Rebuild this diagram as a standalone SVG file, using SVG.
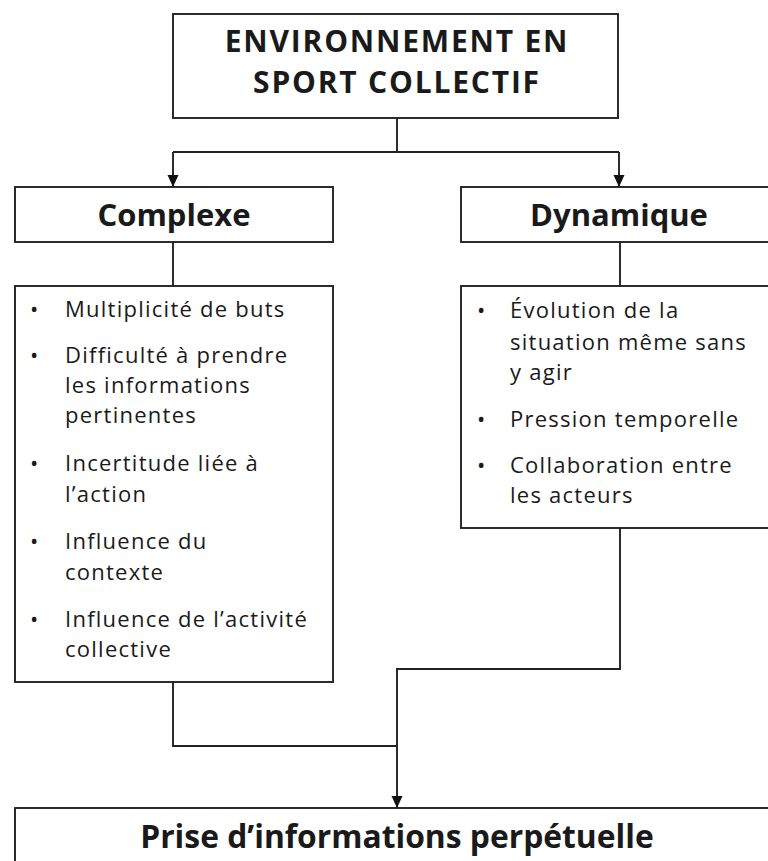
<svg xmlns="http://www.w3.org/2000/svg" width="768" height="861" viewBox="0 0 768 861">
<style>
.box{fill:#fff;stroke:#222;stroke-width:1.9}
.con{fill:none;stroke:#222;stroke-width:1.9}
.t{font-family:"Open Sans","Noto Sans","DejaVu Sans",sans-serif;fill:#1a1a1a}
.h{font-weight:bold;text-anchor:middle}
.b{font-size:22px;letter-spacing:1.25px}
.ti{font-size:30px;letter-spacing:1.8px}
</style>
<defs>
<marker id="arr" markerWidth="12" markerHeight="12" refX="12" refY="6" orient="auto" markerUnits="userSpaceOnUse">
<path d="M0,0.5 L12,6 L0,11.5 Z" fill="#111"/>
</marker>
</defs>
<rect width="768" height="861" fill="#fff"/>
<g id="connectors">
<path class="con" d="M397,118 V152"/>
<path class="con" d="M173,152 H619"/>
<path class="con" d="M173,152 V187" marker-end="url(#arr)"/>
<path class="con" d="M619,152 V187" marker-end="url(#arr)"/>
<path class="con" d="M173,242 V286"/>
<path class="con" d="M620,242 V286"/>
<path class="con" d="M173,682 V746 H397"/>
<path class="con" d="M620,528 V669 H397 V808" marker-end="url(#arr)"/>
</g>
<g id="top">
<rect class="box" x="173" y="14" width="445" height="104"/>
<text class="t h ti" x="397" y="52">ENVIRONNEMENT EN</text>
<text class="t h ti" x="397" y="93">SPORT COLLECTIF</text>
</g>
<g id="complexe">
<rect class="box" x="15" y="187" width="318" height="55"/>
<text class="t h" x="174" y="226" font-size="31">Complexe</text>
</g>
<g id="dynamique">
<rect class="box" x="461" y="187" width="320" height="55"/>
<text class="t h" x="619" y="226" font-size="31">Dynamique</text>
</g>
<g id="complexe-list">
<rect class="box" x="15" y="286" width="318" height="396"/>
<g class="t b">
<text x="30" y="317">•</text><text x="65" y="317">Multiplicité de buts</text>
<text x="30" y="363">•</text><text x="65" y="363">Difficulté à prendre</text>
<text x="65" y="393">les informations</text>
<text x="65" y="423">pertinentes</text>
<text x="30" y="471">•</text><text x="65" y="471">Incertitude liée à</text>
<text x="65" y="502">l’action</text>
<text x="30" y="549">•</text><text x="65" y="549">Influence du</text>
<text x="65" y="580">contexte</text>
<text x="30" y="627">•</text><text x="65" y="627">Influence de l’activité</text>
<text x="65" y="657">collective</text>
</g>
</g>
<g id="dynamique-list">
<rect class="box" x="461" y="286" width="320" height="242"/>
<g class="t b">
<text x="477" y="318">•</text><text x="510" y="318">Évolution de la</text>
<text x="510" y="350">situation même sans</text>
<text x="510" y="380">y agir</text>
<text x="477" y="427">•</text><text x="510" y="427">Pression temporelle</text>
<text x="477" y="473">•</text><text x="510" y="473">Collaboration entre</text>
<text x="510" y="503">les acteurs</text>
</g>
</g>
<g id="prise">
<rect class="box" x="15" y="808" width="770" height="70"/>
<text class="t h" x="397" y="848" font-size="31.8">Prise d’informations perpétuelle</text>
</g>
</svg>
